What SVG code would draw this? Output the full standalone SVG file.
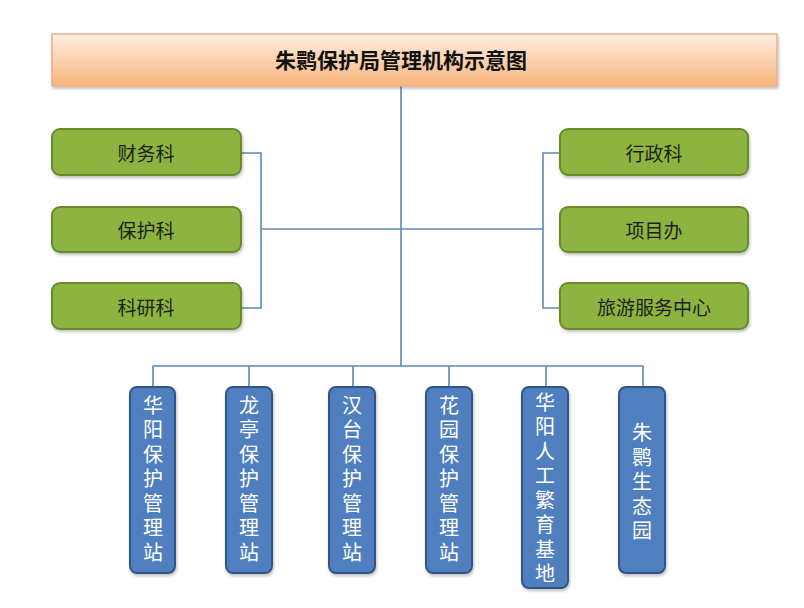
<svg xmlns="http://www.w3.org/2000/svg" width="804" height="608" viewBox="0 0 804 608">
<defs>
<linearGradient id="tg" x1="0" y1="0" x2="0" y2="1">
<stop offset="0" stop-color="#fdeee2"/>
<stop offset="0.5" stop-color="#fcd2b0"/>
<stop offset="1" stop-color="#f8b47c"/>
</linearGradient>
<filter id="sh" x="-10%" y="-10%" width="130%" height="140%">
<feDropShadow dx="1" dy="2" stdDeviation="1.5" flood-color="#000" flood-opacity="0.25"/>
</filter>
</defs>
<style>
text{font-family:"Noto Sans CJK SC","Noto Sans CJK TC",sans-serif;text-anchor:middle;dominant-baseline:central}
.g{fill:#8db43f;stroke:#6b8a2b;stroke-width:2;filter:url(#sh)}
.b{fill:#4f7fbf;stroke:#2f5485;stroke-width:2;filter:url(#sh)}
.gt{font-size:19px;fill:#1e1e1e}
.bt{font-size:20px;fill:#ffffff;writing-mode:vertical-rl;text-orientation:upright;letter-spacing:4.5px}
.c{fill:none;stroke:#5d88b8;stroke-width:1.6}
</style>
<rect width="804" height="608" fill="#ffffff"/>
<g id="connectors">
<path class="c" d="M401 86V366"/>
<path class="c" d="M241 153H261V308H241M261 229H543M560 153H543V308H560"/>
<path class="c" d="M153 387V366H643V387M249 366V387M353 366V387M449 366V387M546 366V387"/>
</g>
<g id="title">
<rect x="52" y="34" width="725" height="52" fill="url(#tg)" stroke="#e8b088" stroke-width="1.5" filter="url(#sh)"/>
<text x="401" y="59" style="font-size:21px;font-weight:bold;fill:#111">朱鹮保护局管理机构示意图</text>
</g>
<g id="caiwu"><rect class="g" x="52" y="129" width="189" height="46" rx="8"/><text class="gt" x="146" y="152">财务科</text></g>
<g id="baohu"><rect class="g" x="52" y="207" width="189" height="45" rx="8"/><text class="gt" x="146" y="229">保护科</text></g>
<g id="keyan"><rect class="g" x="52" y="283" width="189" height="46" rx="8"/><text class="gt" x="146" y="306">科研科</text></g>
<g id="xingzheng"><rect class="g" x="560" y="129" width="188" height="46" rx="8"/><text class="gt" x="654" y="152">行政科</text></g>
<g id="xiangmu"><rect class="g" x="560" y="207" width="188" height="45" rx="8"/><text class="gt" x="654" y="229">项目办</text></g>
<g id="lvyou"><rect class="g" x="560" y="283" width="188" height="46" rx="8"/><text class="gt" x="654" y="306">旅游服务中心</text></g>
<g id="huayang">
<rect class="b" x="130" y="387" width="45" height="186" rx="7"/>
<text class="bt" x="153" y="481">华阳保护管理站</text>
</g>
<g id="longting">
<rect class="b" x="226" y="387" width="46" height="186" rx="7"/>
<text class="bt" x="249" y="481">龙亭保护管理站</text>
</g>
<g id="hantai">
<rect class="b" x="329" y="387" width="46" height="186" rx="7"/>
<text class="bt" x="352" y="481">汉台保护管理站</text>
</g>
<g id="huayuan">
<rect class="b" x="426" y="387" width="46" height="186" rx="7"/>
<text class="bt" x="449" y="481">花园保护管理站</text>
</g>
<g id="fanyu">
<rect class="b" x="522" y="387" width="46" height="201" rx="7"/>
<text class="bt" x="545" y="490">华阳人工繁育基地</text>
</g>
<g id="shengtai">
<rect class="b" x="619" y="387" width="46" height="186" rx="7"/>
<text class="bt" x="642" y="484">朱鹮生态园</text>
</g>
</svg>
